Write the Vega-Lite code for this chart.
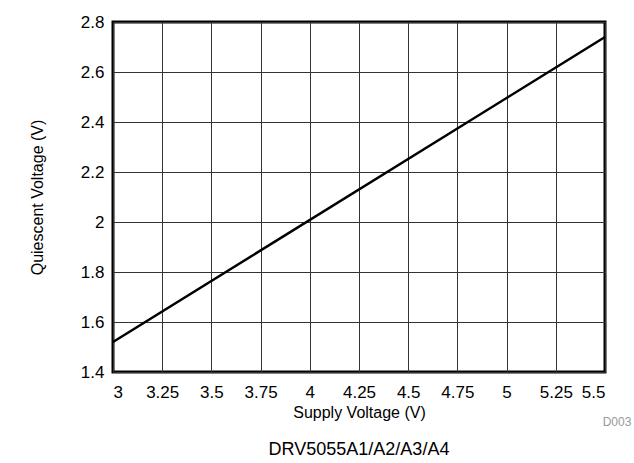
{
  "$schema": "https://vega.github.io/schema/vega-lite/v6.json",
  "autosize": "none",
  "width": 492,
  "height": 350,
  "padding": {"left": 113, "top": 22, "right": 29, "bottom": 91},
  "background": "white",
  "config": {
    "view": {"stroke": "black", "strokeWidth": 3},
    "font": "Liberation Sans"
  },
  "title": {
    "text": "DRV5055A1/A2/A3/A4",
    "orient": "bottom",
    "anchor": "middle",
    "fontSize": 18,
    "fontWeight": "normal",
    "font": "Liberation Sans",
    "color": "black",
    "offset": 13
  },
  "datasets": {
    "line": [
      {"supply": 3.0, "vq": 1.52},
      {"supply": 5.5, "vq": 2.74}
    ],
    "note": [
      {"supply": 5.5, "vq": 1.4, "label": "D003"}
    ]
  },
  "layer": [
    {
      "data": {"name": "line"},
      "mark": {"type": "line", "color": "black", "strokeWidth": 2.5},
      "encoding": {
        "x": {
          "field": "supply", "type": "quantitative",
          "scale": {"domain": [3, 5.5], "nice": false, "zero": false},
          "axis": {
            "title": "Supply Voltage (V)",
            "values": [3, 3.25, 3.5, 3.75, 4, 4.25, 4.5, 4.75, 5, 5.25, 5.5],
            "labelExpr": "'' + datum.value",
            "domain": false,
            "ticks": false,
            "grid": true,
            "gridColor": "#333",
            "gridOpacity": 1,
            "gridWidth": 1,
            "labelFontSize": 17,
            "labelColor": "black",
            "labelPadding": 12,
            "labelFont": "Liberation Sans",
            "titleFont": "Liberation Sans",
            "titleFontSize": 16,
            "titleFontWeight": "normal",
            "titleColor": "black",
            "titlePadding": 4
          }
        },
        "y": {
          "field": "vq", "type": "quantitative",
          "scale": {"domain": [1.4, 2.8], "nice": false, "zero": false},
          "axis": {
            "title": "Quiescent Voltage (V)",
            "values": [1.4, 1.6, 1.8, 2, 2.2, 2.4, 2.6, 2.8],
            "labelExpr": "'' + datum.value",
            "domain": false,
            "ticks": false,
            "grid": true,
            "gridColor": "#333",
            "gridOpacity": 1,
            "gridWidth": 1,
            "labelFontSize": 17,
            "labelColor": "black",
            "labelPadding": 9,
            "labelFont": "Liberation Sans",
            "titleFont": "Liberation Sans",
            "titleFontSize": 16,
            "titleFontWeight": "normal",
            "titleColor": "black",
            "titlePadding": 35
          }
        }
      }
    },
    {
      "data": {"name": "note"},
      "mark": {"type": "text", "color": "#999", "fontSize": 12, "font": "Liberation Sans", "align": "center", "baseline": "middle", "dx": 12, "dy": 50},
      "encoding": {
        "x": {"field": "supply", "type": "quantitative"},
        "y": {"field": "vq", "type": "quantitative"},
        "text": {"field": "label"}
      }
    }
  ]
}
